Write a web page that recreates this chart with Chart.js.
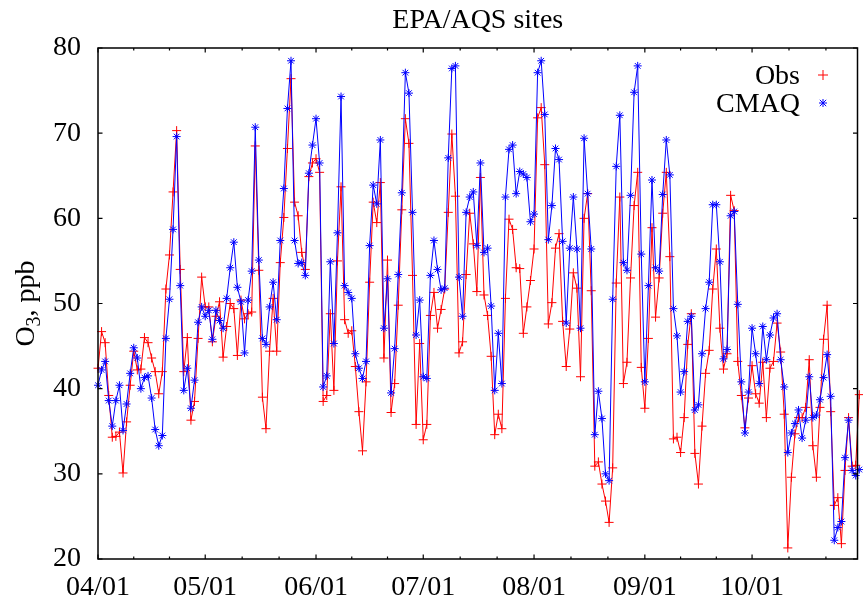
<!DOCTYPE html>
<html><head><meta charset="utf-8">
<script src="https://cdn.jsdelivr.net/npm/chart.js@4/dist/chart.umd.min.js"></script>
<style>html,body{margin:0;padding:0;background:#fff;overflow:hidden}canvas{display:block}</style>
</head><body>
<canvas id="c" width="863" height="605"></canvas>
<script>
// Daily values starting 04/01 (day index 0)
const obsValues = [
42.4,46.7,45.4,39.2,34.3,34.4,34.9,30.1,36.1,40.4,
44.4,42.2,42.3,46.0,45.4,43.6,42.0,39.4,42.0,51.7,
55.7,63.1,70.3,54.0,42.0,46.0,36.3,38.5,45.9,53.1,
49.6,49.6,45.5,48.5,50.2,43.7,47.3,50.0,49.4,43.9,
50.4,48.2,48.8,49.0,68.5,53.9,39.0,35.3,44.4,50.6,
44.4,54.8,60.1,68.2,76.4,61.9,60.3,56.0,54.0,64.9,
66.5,67.0,65.4,38.5,39.2,48.8,39.8,55.0,63.7,48.1,
46.5,46.8,42.6,37.3,32.7,40.8,52.5,61.9,59.5,64.2,
43.6,55.1,37.2,40.6,49.8,61.0,71.7,68.8,53.3,35.8,
45.3,34.0,35.8,48.6,51.3,47.1,49.3,51.7,60.7,69.9,
62.6,44.2,45.5,53.4,60.6,57.0,51.4,64.8,51.0,48.6,
43.8,34.6,37.0,35.3,50.6,59.9,58.7,54.2,54.1,46.5,
49.6,52.7,56.4,71.8,73.0,66.3,47.6,50.1,56.5,58.2,
47.9,42.6,47.0,53.6,51.8,41.4,60.0,62.9,51.5,30.9,
31.4,28.8,26.8,24.3,30.7,52.4,62.5,40.6,43.1,53.0,
61.5,65.4,42.5,37.7,45.9,58.9,48.4,53.0,60.6,65.4,
55.5,34.1,34.3,32.5,36.6,45.2,48.8,32.4,28.8,35.6,
41.8,44.5,51.7,56.4,47.1,42.3,44.1,62.7,60.9,43.2,
39.2,35.4,38.9,42.7,39.4,38.3,43.1,36.6,42.4,43.2,
47.7,44.3,37.0,21.3,29.6,34.7,36.6,36.6,37.8,43.4,
33.3,29.6,37.8,45.8,49.8,37.3,26.3,27.2,21.8,30.4,
36.6,30.9,31.0,39.3
];
const cmaqValues = [
40.4,42.2,43.2,38.6,35.6,38.6,40.4,35.1,38.2,41.8,
44.8,43.6,40.0,41.3,41.5,38.9,35.2,33.3,34.5,45.9,
50.5,58.7,69.6,52.1,39.8,42.4,37.7,41.0,47.8,49.6,
48.5,49.2,45.8,49.2,48.0,47.1,50.6,54.2,57.2,51.9,
50.2,44.2,50.4,53.8,70.7,55.1,45.9,45.2,49.6,52.5,
48.1,57.4,63.5,72.9,78.5,57.4,54.7,54.8,53.3,65.3,
68.6,71.7,66.5,40.2,41.5,54.9,45.3,58.3,74.3,52.1,
51.3,50.6,44.1,42.4,41.2,43.2,56.8,63.9,61.7,69.2,
47.1,52.9,39.5,44.7,53.4,63.0,77.1,74.7,60.7,46.3,
50.4,41.4,41.2,53.3,57.4,54.0,51.6,51.8,67.1,77.6,
77.9,53.1,48.5,60.7,62.5,63.1,56.8,66.5,56.0,56.5,
49.7,39.8,46.5,40.6,62.5,68.1,68.6,62.9,65.5,65.2,
64.8,59.6,60.5,77.1,78.5,72.2,57.5,61.5,68.2,66.9,
57.3,47.7,56.5,62.5,56.4,47.1,69.4,62.9,56.4,34.6,
39.7,36.5,30.0,29.2,50.5,66.1,72.1,54.8,53.9,62.7,
74.8,77.9,55.8,40.8,52.1,64.5,54.2,53.8,62.8,69.2,
65.1,49.4,46.2,39.6,42.0,47.9,48.5,37.5,38.1,44.1,
49.4,52.5,61.6,61.6,54.9,43.5,44.6,60.3,60.8,49.9,
40.8,34.8,39.6,47.1,44.1,40.6,47.3,43.4,46.3,48.3,
48.8,43.4,40.2,32.5,34.8,35.9,37.5,34.2,36.3,41.4,
36.6,36.9,38.7,41.3,44.0,39.1,22.2,23.7,24.4,31.9,
36.3,30.4,29.8,30.5
];
const tickDays = [0, 30, 61, 91, 122, 153, 183];
const tickLabels = ['04/01', '05/01', '06/01', '07/01', '08/01', '09/01', '10/01'];
const yTickValues = [20, 30, 40, 50, 60, 70, 80];
const seriesNames = ['Obs', 'CMAQ'];
const titleText = 'EPA/AQS sites';

const FONT = "'Liberation Serif','Times New Roman',serif";
const toPoints = arr => arr.map((v, i) => ({x: i, y: v}));

function drawCross(ctx, x, y, r, color) {
  ctx.save(); ctx.strokeStyle = color; ctx.lineWidth = 1;
  ctx.beginPath(); ctx.moveTo(x - r, y); ctx.lineTo(x + r, y);
  ctx.moveTo(x, y - r); ctx.lineTo(x, y + r); ctx.stroke(); ctx.restore();
}
function drawStar(ctx, x, y, r, color) {
  ctx.save(); ctx.strokeStyle = color; ctx.lineWidth = 1;
  ctx.beginPath(); ctx.moveTo(x - r, y); ctx.lineTo(x + r, y);
  ctx.moveTo(x, y - r); ctx.lineTo(x, y + r);
  const d = r * 0.8;
  ctx.moveTo(x - d, y - d); ctx.lineTo(x + d, y + d);
  ctx.moveTo(x - d, y + d); ctx.lineTo(x + d, y - d);
  ctx.stroke(); ctx.restore();
}

const decor = {
  id: 'decor',
  afterDatasetsDraw(chart) {
    const ctx = chart.ctx;
    const {left, right, top, bottom} = chart.chartArea;
    const xs = chart.scales.x, ys = chart.scales.y;
    ctx.save();
    ctx.strokeStyle = '#000';
    ctx.lineWidth = 1.5;
    ctx.strokeRect(left, top, right - left, bottom - top);
    ctx.lineWidth = 1.2;
    ctx.beginPath();
    yTickValues.forEach(v => {
      const p = ys.getPixelForValue(v);
      ctx.moveTo(left, p); ctx.lineTo(left + 4.5, p);
      ctx.moveTo(right, p); ctx.lineTo(right - 4.5, p);
    });
    tickDays.forEach((d, i) => {
      const p = xs.getPixelForValue(d);
      ctx.moveTo(p, bottom); ctx.lineTo(p, bottom - 4.5);
      ctx.moveTo(p, top); ctx.lineTo(p, top + 4.5);
      const next = i + 1 < tickDays.length ? tickDays[i + 1] : d + 31;
      for (let k = 1; k < 3; k++) {
        const m = d + (next - d) * k / 3;
        if (m > xs.max) continue;
        const q = xs.getPixelForValue(m);
        ctx.moveTo(q, bottom); ctx.lineTo(q, bottom - 2.5);
        ctx.moveTo(q, top); ctx.lineTo(q, top + 2.5);
      }
    });
    ctx.stroke();
    ctx.restore();
  },
  afterDraw(chart) {
    const ctx = chart.ctx;
    const {left, right, top, bottom} = chart.chartArea;
    ctx.save();
    ctx.fillStyle = '#000';
    // title
    ctx.font = '28px ' + FONT;
    ctx.textAlign = 'center';
    ctx.textBaseline = 'alphabetic';
    ctx.fillText(titleText, (left + right) / 2, 28);
    // legend
    ctx.textAlign = 'right';
    ctx.fillText(seriesNames[0], 800, 84);
    ctx.fillText(seriesNames[1], 800, 112);
    drawCross(ctx, 823, 75, 5, '#ff0000');
    drawStar(ctx, 823, 103, 4, '#0000ff');
    // y axis title O3, ppb
    ctx.translate(34, (top + bottom) / 2);
    ctx.rotate(-Math.PI / 2);
    const big = '28px ' + FONT, small = '20px ' + FONT;
    ctx.font = big; const wO = ctx.measureText('O').width;
    const wRest = ctx.measureText(', ppb').width;
    ctx.font = small; const w3 = ctx.measureText('3').width;
    let x0 = -(wO + w3 + wRest) / 2;
    ctx.textAlign = 'left';
    ctx.font = big; ctx.fillText('O', x0, 0);
    ctx.font = small; ctx.fillText('3', x0 + wO, 6);
    ctx.font = big; ctx.fillText(', ppb', x0 + wO + w3, 0);
    ctx.restore();
  }
};

new Chart(document.getElementById('c'), {
  type: 'line',
  data: {
    datasets: [
      {
        label: seriesNames[0], data: toPoints(obsValues), order: 1,
        borderColor: '#ff0000', borderWidth: 1, backgroundColor: '#ff0000',
        pointStyle: 'cross', pointRadius: 4.5, pointBorderWidth: 1,
        pointBorderColor: '#ff0000', fill: false, tension: 0, clip: false
      },
      {
        label: seriesNames[1], data: toPoints(cmaqValues), order: 0,
        borderColor: '#0000ff', borderWidth: 1, backgroundColor: '#0000ff',
        pointStyle: 'star', pointRadius: 4, pointBorderWidth: 1,
        pointBorderColor: '#0000ff', fill: false, tension: 0, clip: false
      }
    ]
  },
  options: {
    responsive: false, animation: false, devicePixelRatio: 1,
    layout: {padding: {top: 48, right: 1, left: 0, bottom: 0}},
    plugins: {legend: {display: false}, tooltip: {enabled: false}, title: {display: false}},
    scales: {
      x: {
        type: 'linear', min: 0, max: 212.5,
        grid: {display: false, drawTicks: false},
        border: {display: false},
        afterBuildTicks: s => { s.ticks = tickDays.map(v => ({value: v})); },
        afterFit: s => { s.height = 46; },
        ticks: {
          autoSkip: false, maxRotation: 0, padding: 12, color: '#000',
          font: {family: FONT, size: 28},
          callback: v => tickLabels[tickDays.indexOf(v)]
        }
      },
      y: {
        min: 20, max: 80,
        grid: {display: false, drawTicks: false},
        border: {display: false},
        afterBuildTicks: s => { s.ticks = yTickValues.map(v => ({value: v})); },
        afterFit: s => { s.width = 98; },
        ticks: {padding: 17, color: '#000', font: {family: FONT, size: 28}}
      }
    }
  },
  plugins: [decor]
});
</script>
</body></html>
